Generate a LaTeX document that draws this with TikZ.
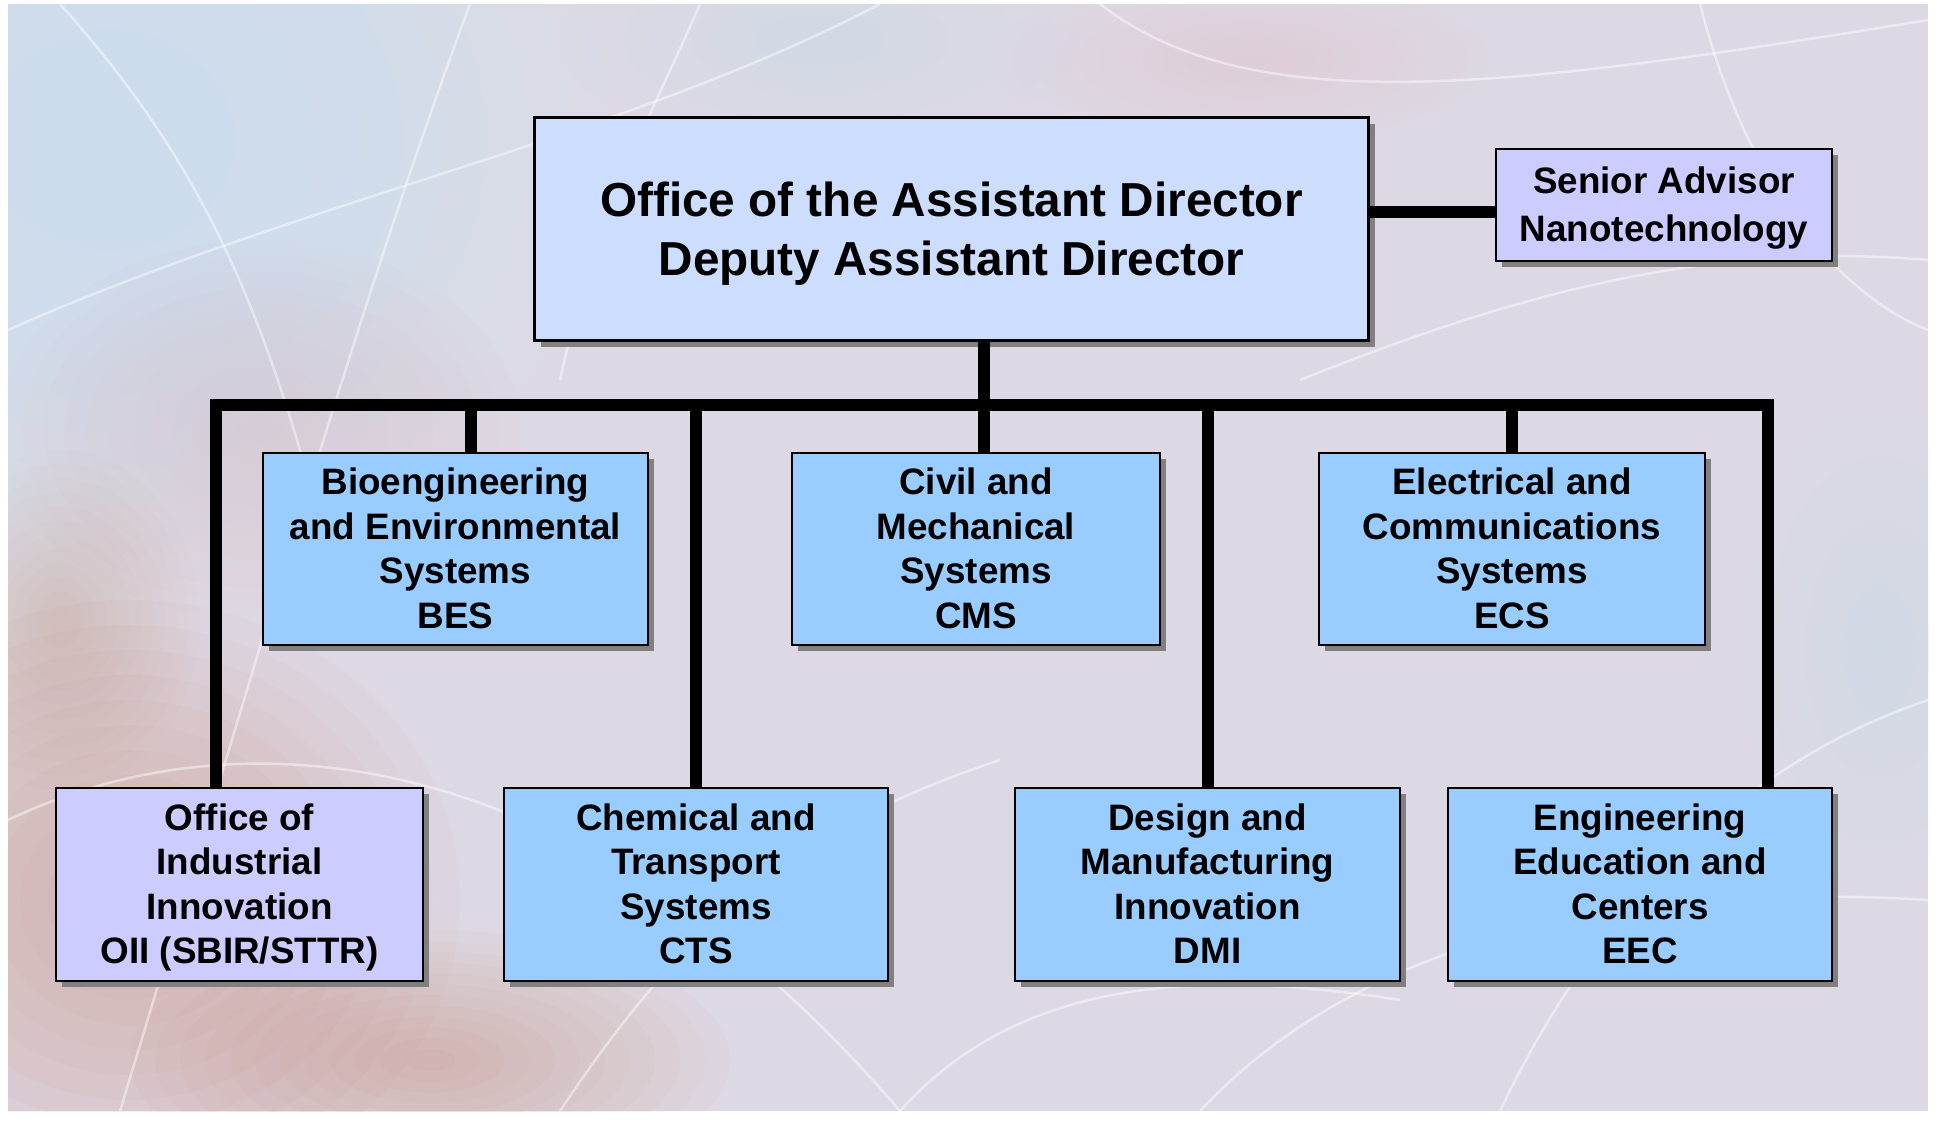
\documentclass[tikz,border=0pt]{standalone}
\usepackage{fontspec}
\setmainfont{Liberation Sans}
\usetikzlibrary{shadows}
\definecolor{bgbase}{RGB}{221,217,228}
\definecolor{bgblue}{RGB}{196,234,250}
\definecolor{bgred}{RGB}{196,118,88}
\definecolor{bgpink}{RGB}{228,184,194}
\definecolor{mainfill}{RGB}{204,221,253}
\definecolor{lavfill}{RGB}{204,204,255}
\definecolor{bluefill}{RGB}{153,204,255}
\definecolor{shadowgray}{RGB}{128,128,128}
\newcommand\bstrut{\rule[-11pt]{0pt}{47.3pt}}
\newcommand\mstrut{\rule[-12.5pt]{0pt}{58.7pt}}
\newcommand\softblob[6]{%
  \foreach \k in {1,...,12} {\fill[#1, opacity=#6] (#2,#3) ellipse [x radius={#4*\k/12}, y radius={#5*\k/12}];}}
\tikzset{
  box/.style={draw=black, line width=2.2pt, rectangle, inner sep=0pt, align=center,
    font=\bfseries\fontsize{36.8}{44.5}\selectfont,
    drop shadow={shadow xshift=6pt, shadow yshift=-6pt, fill=shadowgray, opacity=1}},
  bluebox/.style={box, fill=bluefill},
  lavbox/.style={box, fill=lavfill},
  conn/.style={line width=12pt, black, line join=miter, line cap=butt},
  wisp/.style={white, line width=2.5pt, opacity=0.45}
}
\begin{document}
\begin{tikzpicture}[x=1pt,y=-1pt]
\useasboundingbox (0,0) rectangle (1937,1120);
\fill[white] (0,0) rectangle (1937,1120);
% background texture
\begin{scope}
\clip (8,4) rectangle (1928,1111);
\fill[bgbase] (8,4) rectangle (1928,1111);
\softblob{bgblue}{110}{140}{500}{440}{0.07}
\softblob{bgblue}{820}{40}{260}{110}{0.03}
\softblob{bgpink}{260}{430}{260}{190}{0.035}
\softblob{bgred}{130}{900}{330}{300}{0.035}
\softblob{bgred}{430}{1060}{300}{130}{0.03}
\softblob{bgred}{60}{620}{140}{170}{0.02}
\softblob{bgblue}{1880}{650}{150}{260}{0.025}
\softblob{bgpink}{1250}{60}{260}{90}{0.02}
\draw[wisp] (470,4) .. controls (360,300) and (260,650) .. (120,1111);
\draw[wisp] (8,330) .. controls (300,200) and (620,140) .. (880,4);
\draw[wisp] (60,4) .. controls (200,160) and (260,300) .. (320,520);
\draw[wisp] (8,820) .. controls (260,700) and (600,760) .. (900,1111);
\draw[wisp] (560,1111) .. controls (700,900) and (820,820) .. (1000,760);
\draw[wisp] (1100,4) .. controls (1250,120) and (1500,90) .. (1928,20);
\draw[wisp] (1500,1111) .. controls (1600,900) and (1750,760) .. (1928,700);
\draw[wisp] (1200,1111) .. controls (1350,950) and (1600,880) .. (1928,900);
\draw[wisp] (1700,4) .. controls (1750,200) and (1850,300) .. (1928,330);
\draw[wisp] (1300,380) .. controls (1500,300) and (1700,240) .. (1928,260);
\draw[wisp] (900,1111) .. controls (1000,1000) and (1150,960) .. (1400,1000);
\draw[wisp] (700,4) .. controls (650,120) and (600,200) .. (560,380);
\end{scope}
% nodes
\node[box, fill=mainfill, minimum width=834pt, minimum height=223pt,
  font=\bfseries\fontsize{47.7}{58}\selectfont] (main) at (951.5,229)
  {\mstrut Office of the Assistant Director\\Deputy Assistant Director\mstrut};
\node[lavbox, minimum width=336pt, minimum height=112pt] (senior) at (1664,205)
  {\bstrut Senior Advisor\\Nanotechnology\bstrut};
\node[bluebox, minimum width=385pt, minimum height=192pt] (bes) at (455.5,549)
  {\bstrut Bioengineering\\and Environmental\\Systems\\BES\bstrut};
\node[bluebox, minimum width=368pt, minimum height=192pt] (cms) at (976,549)
  {\bstrut Civil and\\Mechanical\\Systems\\CMS\bstrut};
\node[bluebox, minimum width=386pt, minimum height=192pt] (ecs) at (1512,549)
  {\bstrut Electrical and\\Communications\\Systems\\ECS\bstrut};
\node[lavbox, minimum width=367pt, minimum height=193pt] (oii) at (239.5,884.5)
  {\bstrut Office of\\Industrial\\Innovation\\OII (SBIR/STTR)\bstrut};
\node[bluebox, minimum width=384pt, minimum height=193pt] (cts) at (696,884.5)
  {\bstrut Chemical and\\Transport\\Systems\\CTS\bstrut};
\node[bluebox, minimum width=385pt, minimum height=193pt] (dmi) at (1207.5,884.5)
  {\bstrut Design and\\Manufacturing\\Innovation\\DMI\bstrut};
\node[bluebox, minimum width=384pt, minimum height=193pt] (eec) at (1640,884.5)
  {\bstrut Engineering\\Education and\\Centers\\EEC\bstrut};
% junction coordinates on the bus
\coordinate (jl) at (216,405);
\coordinate (jr) at (1768,405);
\coordinate (jm) at (984,405);
\coordinate (jbes) at (471,405);
\coordinate (jcts) at (696,405);
\coordinate (jdmi) at (1208,405);
\coordinate (jecs) at (1512,405);
% connectors
\draw[conn] ([yshift=17pt]main.east) -- ([yshift=17pt]main.east -| senior.west);
\draw[conn] (jm |- main.south) -- (jm |- cms.north);
\draw[conn] (oii.north -| jl) -- (jl) -- (jr) -- (eec.north -| jr);
\draw[conn] (jbes) -- (jbes |- bes.north);
\draw[conn] (jecs) -- (jecs |- ecs.north);
\draw[conn] (jcts) -- (jcts |- cts.north);
\draw[conn] (jdmi) -- (jdmi |- dmi.north);
\end{tikzpicture}
\end{document}
